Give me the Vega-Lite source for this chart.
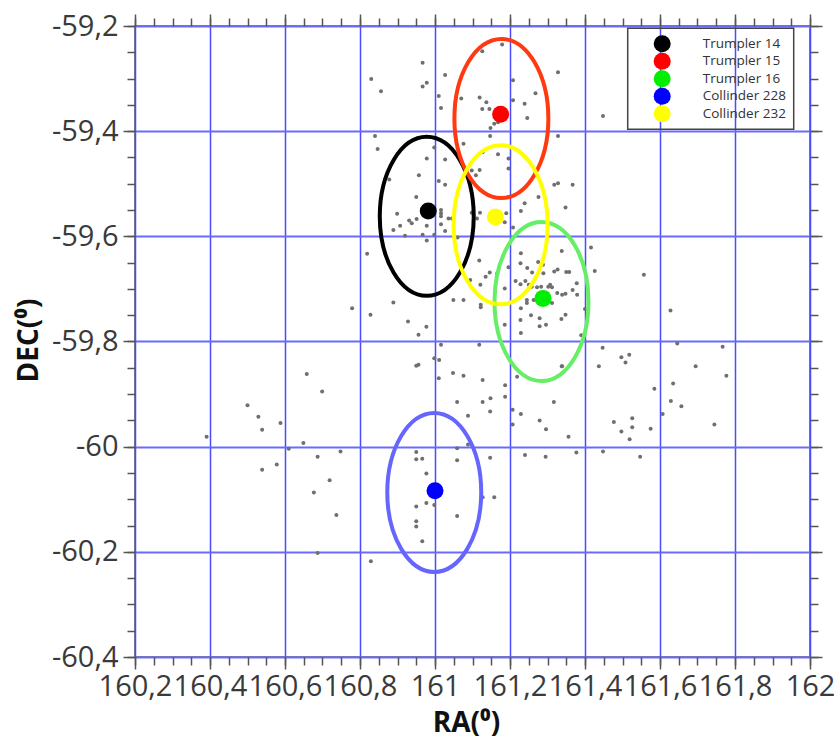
{
  "$schema": "https://vega.github.io/schema/vega-lite/v6.json",
  "width": 675,
  "height": 631,
  "autosize": "none",
  "padding": {"left": 135, "top": 26, "right": 27, "bottom": 83},
  "background": "white",
  "config": {
    "view": {"stroke": "#555555", "strokeWidth": 1.5},
    "axis": {"domain": false, "tickColor": "#555555", "tickWidth": 1.5, "labelOverlap": false, "labelFlush": false, "labelBound": false},
    "legend": {"strokeWidth": 1.5}
  },
  "datasets": {
    "stars": [
      {"ra":160.830,"dec":-59.301},{"ra":160.856,"dec":-59.324},{"ra":160.840,"dec":-59.409},{"ra":160.847,"dec":-59.434},
      {"ra":160.878,"dec":-59.492},{"ra":160.819,"dec":-59.633},{"ra":160.779,"dec":-59.737},{"ra":160.828,"dec":-59.749},
      {"ra":160.889,"dec":-59.726},{"ra":160.928,"dec":-59.762},{"ra":160.956,"dec":-59.787},{"ra":160.950,"dec":-59.525},
      {"ra":160.899,"dec":-59.557},{"ra":160.907,"dec":-59.580},{"ra":160.889,"dec":-59.588},{"ra":160.920,"dec":-59.599},
      {"ra":160.931,"dec":-59.570},{"ra":160.938,"dec":-59.575},{"ra":160.951,"dec":-59.567},{"ra":160.967,"dec":-59.597},
      {"ra":160.978,"dec":-59.580},{"ra":160.978,"dec":-59.608},{"ra":160.998,"dec":-59.597},{"ra":161.027,"dec":-59.590},
      {"ra":161.016,"dec":-59.577},{"ra":161.016,"dec":-59.550},{"ra":161.016,"dec":-59.556},{"ra":161.016,"dec":-59.562},
      {"ra":161.036,"dec":-59.566},{"ra":161.045,"dec":-59.566},{"ra":161.060,"dec":-59.602},{"ra":160.957,"dec":-59.484},
      {"ra":161.010,"dec":-59.495},{"ra":161.027,"dec":-59.502},{"ra":160.967,"dec":-59.270},{"ra":160.978,"dec":-59.308},
      {"ra":160.967,"dec":-59.315},{"ra":161.027,"dec":-59.293},{"ra":161.010,"dec":-59.333},{"ra":161.016,"dec":-59.356},
      {"ra":161.126,"dec":-59.248},{"ra":161.179,"dec":-59.235},{"ra":161.208,"dec":-59.303},{"ra":161.070,"dec":-59.338},
      {"ra":161.119,"dec":-59.336},{"ra":161.137,"dec":-59.345},{"ra":161.126,"dec":-59.358},{"ra":161.145,"dec":-59.358},
      {"ra":161.208,"dec":-59.341},{"ra":161.239,"dec":-59.348},{"ra":161.246,"dec":-59.375},{"ra":161.268,"dec":-59.328},
      {"ra":161.328,"dec":-59.288},{"ra":161.448,"dec":-59.371},{"ra":161.158,"dec":-59.386},{"ra":161.168,"dec":-59.383},
      {"ra":161.148,"dec":-59.394},{"ra":161.147,"dec":-59.409},{"ra":161.328,"dec":-59.409},{"ra":161.076,"dec":-59.424},
      {"ra":160.998,"dec":-59.431},{"ra":160.978,"dec":-59.452},{"ra":161.027,"dec":-59.454},{"ra":161.127,"dec":-59.440},
      {"ra":161.168,"dec":-59.444},{"ra":161.196,"dec":-59.452},{"ra":161.196,"dec":-59.471},{"ra":161.098,"dec":-59.475},
      {"ra":161.119,"dec":-59.474},{"ra":161.109,"dec":-59.484},{"ra":161.318,"dec":-59.502},{"ra":161.328,"dec":-59.499},
      {"ra":161.367,"dec":-59.502},{"ra":161.276,"dec":-59.525},{"ra":161.348,"dec":-59.545},{"ra":161.196,"dec":-59.525},
      {"ra":161.239,"dec":-59.537},{"ra":161.229,"dec":-59.552},{"ra":161.186,"dec":-59.573},{"ra":161.190,"dec":-59.556},
      {"ra":161.208,"dec":-59.583},{"ra":161.098,"dec":-59.555},{"ra":161.120,"dec":-59.555},{"ra":161.112,"dec":-59.566},
      {"ra":161.416,"dec":-59.621},{"ra":161.426,"dec":-59.666},{"ra":161.557,"dec":-59.673},{"ra":161.628,"dec":-59.741},
      {"ra":161.646,"dec":-59.804},{"ra":161.767,"dec":-59.810},{"ra":161.447,"dec":-59.812},{"ra":161.497,"dec":-59.830},
      {"ra":161.518,"dec":-59.825},{"ra":161.508,"dec":-59.840},{"ra":161.695,"dec":-59.847},{"ra":161.437,"dec":-59.847},
      {"ra":161.339,"dec":-59.847},{"ra":160.998,"dec":-59.832},{"ra":161.011,"dec":-59.835},{"ra":161.016,"dec":-59.806},
      {"ra":161.118,"dec":-59.806},{"ra":160.977,"dec":-59.772},{"ra":161.186,"dec":-59.768},{"ra":161.229,"dec":-59.784},
      {"ra":161.228,"dec":-59.759},{"ra":161.256,"dec":-59.750},{"ra":161.279,"dec":-59.756},{"ra":161.296,"dec":-59.768},
      {"ra":161.279,"dec":-59.771},{"ra":161.337,"dec":-59.757},{"ra":161.348,"dec":-59.749},{"ra":161.390,"dec":-59.788},
      {"ra":161.400,"dec":-59.738},{"ra":161.049,"dec":-59.721},{"ra":161.076,"dec":-59.721},{"ra":161.122,"dec":-59.730},
      {"ra":161.122,"dec":-59.735},{"ra":161.229,"dec":-59.632},{"ra":161.246,"dec":-59.660},{"ra":161.259,"dec":-59.669},
      {"ra":161.228,"dec":-59.651},{"ra":161.228,"dec":-59.691},{"ra":161.241,"dec":-59.685},{"ra":161.250,"dec":-59.692},
      {"ra":161.215,"dec":-59.685},{"ra":161.275,"dec":-59.649},{"ra":161.288,"dec":-59.654},{"ra":161.283,"dec":-59.696},
      {"ra":161.302,"dec":-59.696},{"ra":161.312,"dec":-59.697},{"ra":161.327,"dec":-59.663},{"ra":161.338,"dec":-59.628},
      {"ra":161.350,"dec":-59.668},{"ra":161.358,"dec":-59.668},{"ra":161.378,"dec":-59.689},{"ra":161.367,"dec":-59.702},
      {"ra":161.326,"dec":-59.708},{"ra":161.339,"dec":-59.711},{"ra":161.348,"dec":-59.709},{"ra":161.379,"dec":-59.711},
      {"ra":161.405,"dec":-59.705},{"ra":161.318,"dec":-59.667},{"ra":161.289,"dec":-59.670},{"ra":161.258,"dec":-59.696},
      {"ra":161.272,"dec":-59.697},{"ra":161.307,"dec":-59.692},{"ra":161.245,"dec":-59.721},{"ra":161.245,"dec":-59.727},
      {"ra":161.263,"dec":-59.721},{"ra":161.312,"dec":-59.727},{"ra":161.229,"dec":-59.737},{"ra":161.166,"dec":-59.670},
      {"ra":161.135,"dec":-59.677},{"ra":161.146,"dec":-59.669},{"ra":161.121,"dec":-59.692},{"ra":161.118,"dec":-59.646},
      {"ra":161.094,"dec":-59.683},{"ra":161.196,"dec":-59.659},{"ra":161.186,"dec":-59.699},{"ra":160.950,"dec":-59.846},
      {"ra":160.956,"dec":-59.844},{"ra":160.658,"dec":-59.862},{"ra":160.699,"dec":-59.895},{"ra":160.500,"dec":-59.921},
      {"ra":160.529,"dec":-59.943},{"ra":160.539,"dec":-59.968},{"ra":160.588,"dec":-59.955},{"ra":160.391,"dec":-59.981},
      {"ra":160.649,"dec":-59.993},{"ra":160.610,"dec":-60.004},{"ra":160.687,"dec":-60.019},{"ra":160.748,"dec":-60.009},
      {"ra":160.539,"dec":-60.044},{"ra":160.578,"dec":-60.034},{"ra":160.719,"dec":-60.064},{"ra":160.677,"dec":-60.087},
      {"ra":160.737,"dec":-60.130},{"ra":160.687,"dec":-60.202},{"ra":160.829,"dec":-60.218},{"ra":160.950,"dec":-60.010},
      {"ra":160.950,"dec":-60.024},{"ra":160.950,"dec":-60.114},{"ra":160.950,"dec":-60.142},{"ra":160.950,"dec":-60.152},
      {"ra":161.048,"dec":-59.860},{"ra":161.076,"dec":-59.865},{"ra":161.010,"dec":-59.870},{"ra":161.127,"dec":-59.873},
      {"ra":161.187,"dec":-59.883},{"ra":161.187,"dec":-59.905},{"ra":161.148,"dec":-59.908},{"ra":161.127,"dec":-59.915},
      {"ra":161.059,"dec":-59.915},{"ra":161.147,"dec":-59.933},{"ra":161.088,"dec":-59.941},{"ra":161.207,"dec":-59.930},
      {"ra":161.229,"dec":-59.938},{"ra":161.207,"dec":-59.958},{"ra":161.279,"dec":-59.950},{"ra":161.296,"dec":-59.967},
      {"ra":161.317,"dec":-59.915},{"ra":161.356,"dec":-59.981},{"ra":161.219,"dec":-59.867},{"ra":161.338,"dec":-59.847},
      {"ra":161.059,"dec":-60.003},{"ra":161.088,"dec":-59.996},{"ra":160.966,"dec":-60.023},{"ra":161.059,"dec":-60.026},
      {"ra":161.147,"dec":-60.021},{"ra":161.240,"dec":-60.016},{"ra":161.295,"dec":-60.019},{"ra":161.377,"dec":-60.011},
      {"ra":160.977,"dec":-60.051},{"ra":160.977,"dec":-60.107},{"ra":160.998,"dec":-60.111},{"ra":161.127,"dec":-60.096},
      {"ra":161.158,"dec":-60.096},{"ra":161.059,"dec":-60.132},{"ra":160.966,"dec":-60.180},{"ra":161.777,"dec":-59.865},
      {"ra":161.635,"dec":-59.880},{"ra":161.585,"dec":-59.890},{"ra":161.629,"dec":-59.913},{"ra":161.657,"dec":-59.923},
      {"ra":161.607,"dec":-59.938},{"ra":161.526,"dec":-59.946},{"ra":161.477,"dec":-59.953},{"ra":161.526,"dec":-59.963},
      {"ra":161.497,"dec":-59.971},{"ra":161.575,"dec":-59.966},{"ra":161.519,"dec":-59.986},{"ra":161.745,"dec":-59.958},
      {"ra":161.448,"dec":-60.009},{"ra":161.547,"dec":-60.019}
    ],
    "clusters": [
      {"name":"Trumpler 14","ra":160.982,"dec":-59.552,"era":160.978,"edec":-59.562},
      {"name":"Trumpler 15","ra":161.175,"dec":-59.368,"era":161.177,"edec":-59.376},
      {"name":"Trumpler 16","ra":161.288,"dec":-59.718,"era":161.284,"edec":-59.724},
      {"name":"Collinder 228","ra":161.000,"dec":-60.084,"era":160.998,"edec":-60.087},
      {"name":"Collinder 232","ra":161.161,"dec":-59.563,"era":161.175,"edec":-59.578}
    ]
  },
  "layer": [
    {
      "data": {"name": "stars"},
      "mark": {"type": "point", "filled": true, "size": 16, "color": "#6f6f6f", "opacity": 1, "strokeWidth": 0},
      "encoding": {
        "x": {"field": "ra", "type": "quantitative", "scale": {"domain": [160.2, 162], "nice": false, "zero": false},
          "axis": {"orient": "bottom", "values": [160.2,160.4,160.6,160.8,161,161.2,161.4,161.6,161.8,162],
            "grid": true, "gridColor": "#4a4aff", "gridWidth": 1.5, "tickSize": 12,
            "labelFont": "Open Sans", "labelFontSize": 29, "labelColor": "#3a3a3a", "labelPadding": 3,
            "labelExpr": "replace(toString(datum.value), '.', ',')",
            "title": "RA(⁰)", "titleFont": "Open Sans", "titleFontSize": 28, "titleFontWeight": "bold", "titleColor": "#111111",
            "titleX": 331, "titleY": 66, "titleAlign": "center", "titleBaseline": "middle"}},
        "y": {"field": "dec", "type": "quantitative", "scale": {"domain": [-60.4, -59.2], "nice": false, "zero": false},
          "axis": {"orient": "left", "values": [-59.2,-59.4,-59.6,-59.8,-60,-60.2,-60.4],
            "grid": true, "gridColor": "#6a6aff", "gridWidth": 2, "tickSize": 12,
            "labelFont": "Open Sans", "labelFontSize": 29, "labelColor": "#3a3a3a", "labelPadding": 5,
            "labelExpr": "replace(toString(datum.value), '.', ',')",
            "title": "DEC(⁰)", "titleFont": "Open Sans", "titleFontSize": 28, "titleFontWeight": "bold", "titleColor": "#111111",
            "titleX": -106, "titleY": 314, "titleAngle": -90, "titleAlign": "center", "titleBaseline": "middle"}}
      }
    },
    {
      "data": {"name": "clusters"},
      "mark": {"type": "point", "filled": false, "strokeWidth": 4, "size": 25281, "opacity": 1,
        "shape": "M0.591,0C0.591,0.552,0.326,1,0,1C-0.326,1,-0.591,0.552,-0.591,0C-0.591,-0.552,-0.326,-1,0,-1C0.326,-1,0.591,-0.552,0.591,0Z"},
      "encoding": {
        "x": {"field": "era", "type": "quantitative", "scale": {"domain": [160.2, 162], "nice": false, "zero": false},
          "axis": {"orient": "top", "values": [160.2,160.4,160.6,160.8,161,161.2,161.4,161.6,161.8,162], "grid": false, "labels": false, "tickSize": 12, "title": null}},
        "y": {"field": "edec", "type": "quantitative", "scale": {"domain": [-60.4, -59.2], "nice": false, "zero": false},
          "axis": {"orient": "right", "values": [-59.2,-59.4,-59.6,-59.8,-60,-60.2,-60.4], "grid": false, "labels": false, "tickSize": 12, "title": null}},
        "stroke": {"field": "name", "type": "nominal",
          "scale": {"range": ["#6666ff","#ffff00","#000000","#ff3a10","#66ee66"]},
          "legend": null}
      }
    },
    {
      "data": {"name": "clusters"},
      "mark": {"type": "point", "filled": true, "size": 289, "opacity": 1, "strokeWidth": 0},
      "encoding": {
        "x": {"field": "ra", "type": "quantitative", "scale": {"domain": [160.2, 162], "nice": false, "zero": false},
          "axis": {"orient": "bottom", "values": [160.2,160.25,160.3,160.35,160.4,160.45,160.5,160.55,160.6,160.65,160.7,160.75,160.8,160.85,160.9,160.95,161,161.05,161.1,161.15,161.2,161.25,161.3,161.35,161.4,161.45,161.5,161.55,161.6,161.65,161.7,161.75,161.8,161.85,161.9,161.95,162],
            "grid": false, "labels": false, "tickSize": 8, "title": null}},
        "y": {"field": "dec", "type": "quantitative", "scale": {"domain": [-60.4, -59.2], "nice": false, "zero": false},
          "axis": {"orient": "left", "values": [-59.2,-59.25,-59.3,-59.35,-59.4,-59.45,-59.5,-59.55,-59.6,-59.65,-59.7,-59.75,-59.8,-59.85,-59.9,-59.95,-60,-60.05,-60.1,-60.15,-60.2,-60.25,-60.3,-60.35,-60.4],
            "grid": false, "labels": false, "tickSize": 8, "title": null}},
        "color": {"field": "name", "type": "nominal",
          "scale": {"domain": ["Trumpler 14","Trumpler 15","Trumpler 16","Collinder 228","Collinder 232"],
                    "range": ["#000000","#ff0000","#00ee00","#0000ff","#ffff00"]},
          "legend": {"orient": "none", "legendX": 492.7, "legendY": 2.3, "title": null, "padding": 7,
            "symbolType": "circle", "symbolSize": 289, "symbolStrokeWidth": 0, "symbolOpacity": 1, "symbolOffset": 19,
            "labelOffset": 32, "labelFont": "Open Sans", "labelFontSize": 13.5, "labelColor": "#333333", "rowPadding": 0.5,
            "labelLimit": 200, "strokeColor": "#444444"}}
      }
    },
    {
      "data": {"name": "clusters"},
      "mark": {"type": "point", "opacity": 0},
      "encoding": {
        "x": {"field": "ra", "type": "quantitative", "scale": {"domain": [160.2, 162], "nice": false, "zero": false},
          "axis": {"orient": "top", "values": [160.2,160.25,160.3,160.35,160.4,160.45,160.5,160.55,160.6,160.65,160.7,160.75,160.8,160.85,160.9,160.95,161,161.05,161.1,161.15,161.2,161.25,161.3,161.35,161.4,161.45,161.5,161.55,161.6,161.65,161.7,161.75,161.8,161.85,161.9,161.95,162],
            "grid": false, "labels": false, "tickSize": 8, "title": null}},
        "y": {"field": "dec", "type": "quantitative", "scale": {"domain": [-60.4, -59.2], "nice": false, "zero": false},
          "axis": {"orient": "right", "values": [-59.2,-59.25,-59.3,-59.35,-59.4,-59.45,-59.5,-59.55,-59.6,-59.65,-59.7,-59.75,-59.8,-59.85,-59.9,-59.95,-60,-60.05,-60.1,-60.15,-60.2,-60.25,-60.3,-60.35,-60.4],
            "grid": false, "labels": false, "tickSize": 8, "title": null}}
      }
    }
  ],
  "resolve": {"axis": {"x": "independent", "y": "independent"}}
}
